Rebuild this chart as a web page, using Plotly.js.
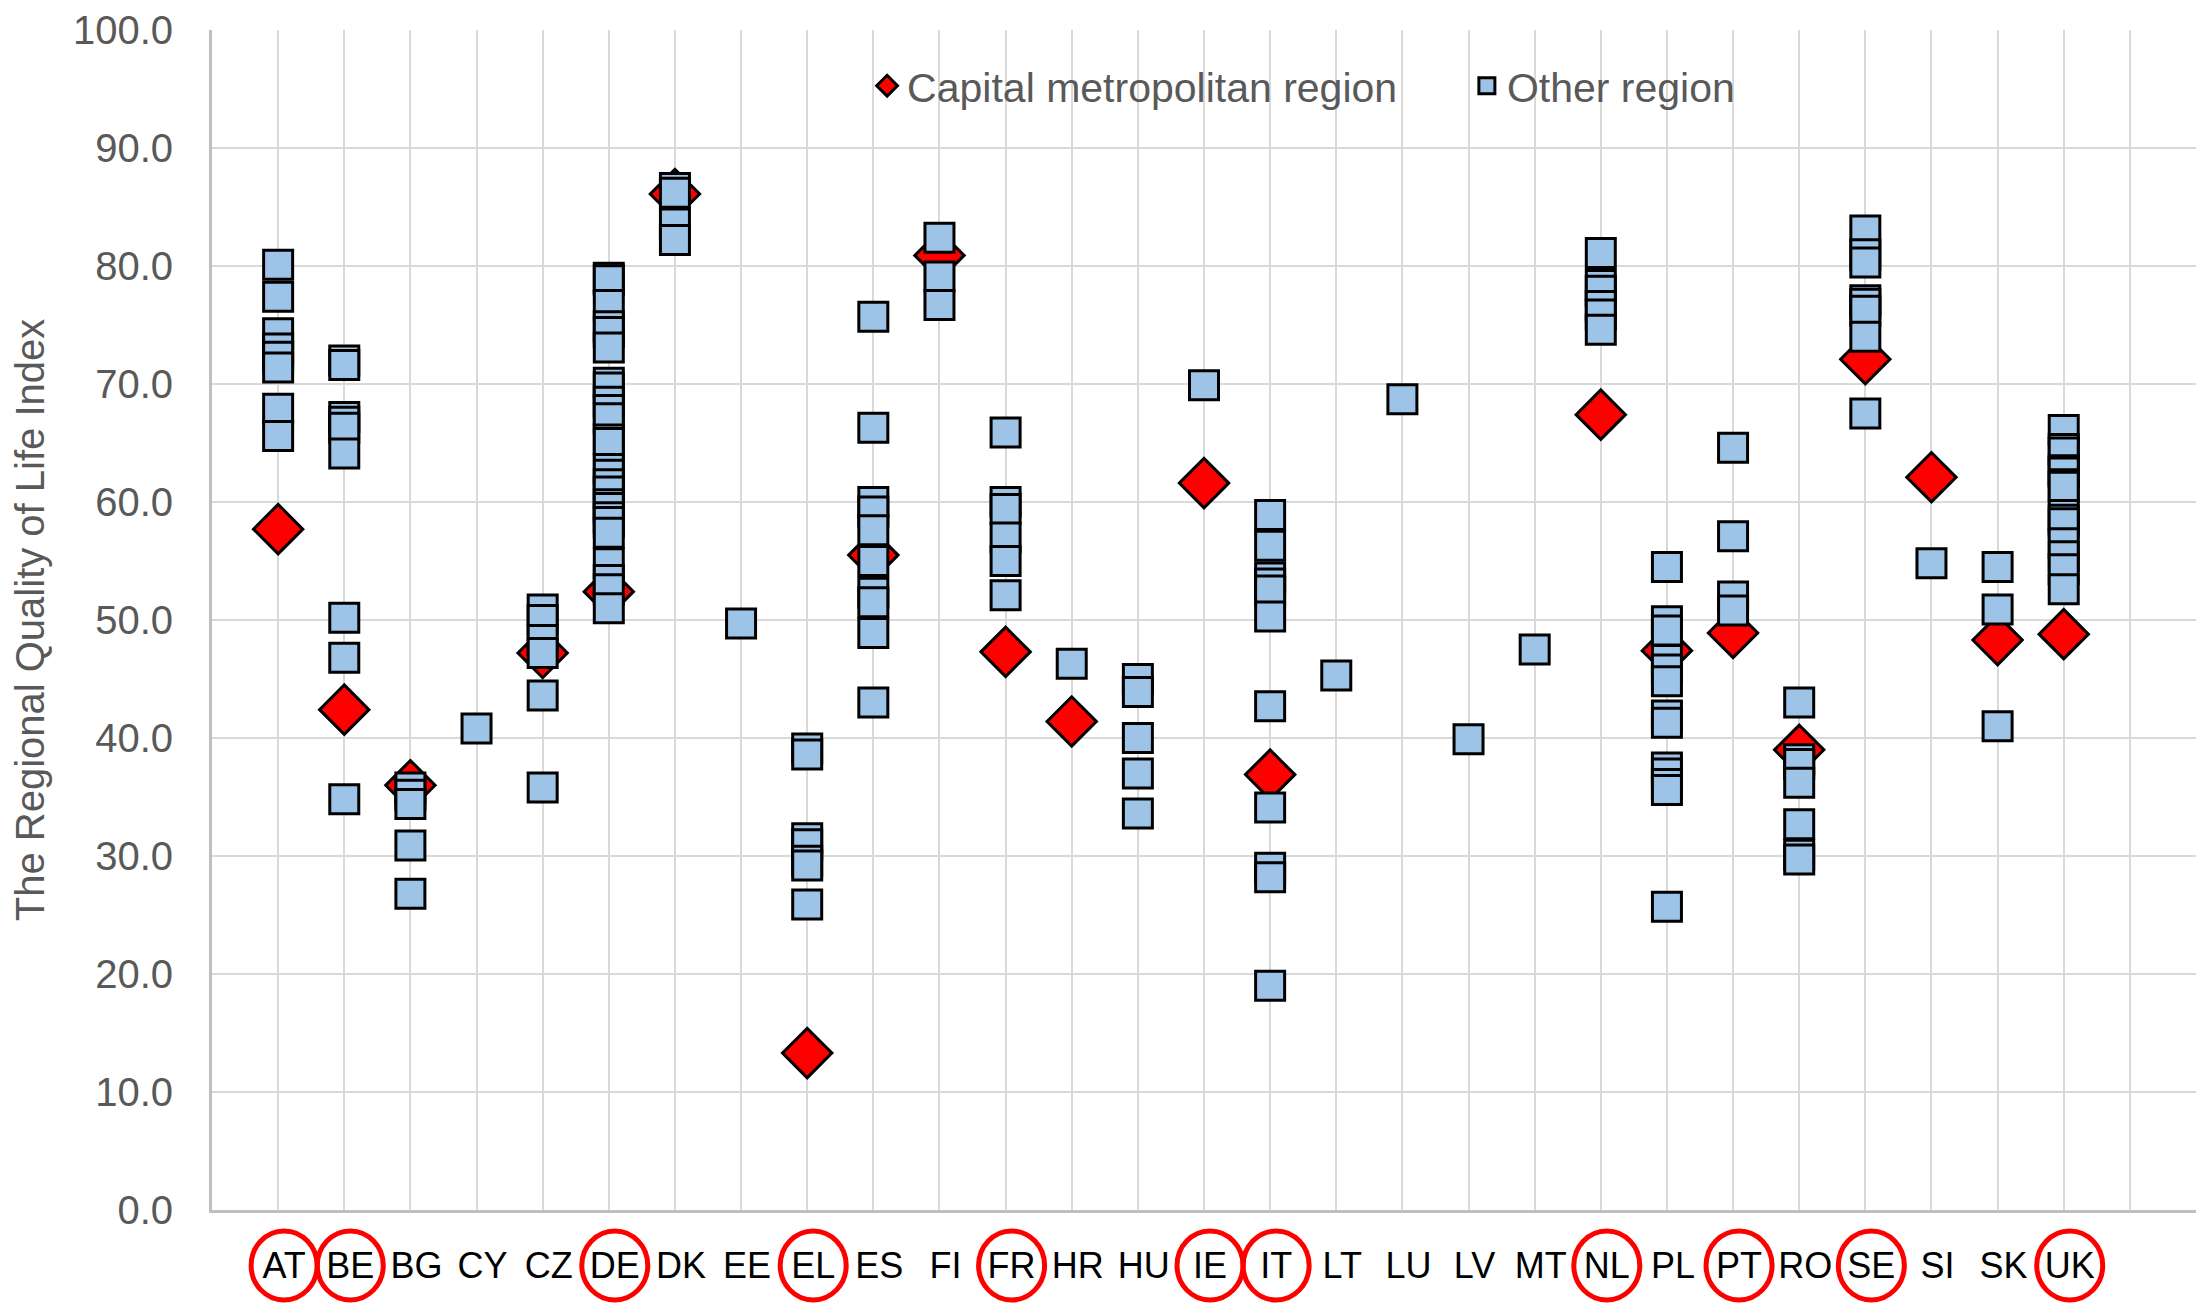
<!DOCTYPE html>
<html>
<head>
<meta charset="utf-8">
<script src="https://cdn.plot.ly/plotly-3.0.1.min.js"></script>
<style>html,body{margin:0;padding:0;background:#ffffff;}</style>
</head>
<body>
<div id="chart" style="width:2210px;height:1303px;"></div>
<script>
// ---- DATA ----
const countries = ["AT","BE","BG","CY","CZ","DE","DK","EE","EL","ES","FI","FR","HR","HU","IE","IT","LT","LU","LV","MT","NL","PL","PT","RO","SE","SI","SK","UK"];

const capitalValues = [57.7, 42.4, 36.0, null, 47.2, 52.4, 86.1, null, 13.3, 55.5, 80.9, 47.3, 41.4, null, 61.6, 36.9, null, null, null, null, 67.4, 47.4, 48.9, 39.0, 72.1, 62.1, 48.3, 48.8];

const otherValues = [
  [80.1, 77.4, 74.3, 73.0, 72.3, 71.4, 67.9, 65.6],                     // AT
  [72.0, 71.6, 67.2, 66.8, 66.3, 64.1, 50.2, 46.8, 34.8],               // BE
  [35.8, 35.2, 34.4, 30.9, 26.8],                                       // BG
  [40.8],                                                               // CY
  [50.9, 50.0, 48.3, 47.2, 43.6, 35.8],                                 // CZ
  [79.0, 78.8, 76.7, 74.9, 74.4, 73.1, 70.1, 69.7, 68.5, 67.8, 67.1, 65.3, 65.0, 62.8, 62.3, 61.5, 60.9, 59.8, 59.5, 58.7, 58.3, 57.4, 54.8, 53.4, 52.6, 51.0], // DE
  [86.6, 86.2, 83.6, 82.2],                                             // DK
  [49.7],                                                               // EE
  [39.1, 38.6, 31.5, 31.0, 29.6, 29.2, 25.9],                           // EL
  [75.7, 66.3, 60.0, 59.2, 57.6, 55.0, 52.3, 51.5, 48.9, 43.0],         // ES
  [82.4, 79.1, 76.7],                                                   // FI
  [65.9, 60.0, 59.4, 57.0, 55.0, 52.1],                                 // FR
  [46.3],                                                               // HR
  [45.0, 43.9, 40.0, 37.0, 33.6],                                       // HU
  [69.9],                                                               // IE
  [58.9, 56.3, 53.6, 53.1, 52.5, 50.3, 42.7, 34.1, 29.0, 28.2, 19.0],   // IT
  [45.3],                                                               // LT
  [68.7],                                                               // LU
  [39.9],                                                               // LV
  [47.5],                                                               // MT
  [81.1, 78.4, 77.9, 76.6, 75.9, 74.6],                                 // NL
  [54.5, 49.9, 49.1, 46.6, 45.8, 44.8, 41.9, 41.3, 37.5, 37.0, 36.1, 35.6, 25.7], // PL
  [64.6, 57.1, 52.0, 50.8],                                             // PT
  [43.0, 38.2, 37.8, 36.2, 32.7, 30.1, 29.7],                           // RO
  [83.0, 81.0, 80.3, 77.1, 76.8, 76.2, 74.0, 67.5],                     // SE
  [54.8],                                                               // SI
  [54.5, 50.9, 41.0],                                                   // SK
  [66.1, 64.5, 64.2, 62.7, 62.5, 61.5, 61.3, 58.9, 58.5, 58.2, 56.5, 55.4, 54.3, 52.6] // UK
];

const circledCountries = ["AT","BE","DE","EL","FR","IE","IT","NL","PT","SE","UK"];

const seriesNames = ["Capital metropolitan region", "Other region"];
const yAxisTitle = "The Regional Quality of Life Index";

// ---- BUILD ----
const FONT = "Liberation Sans, Arial, sans-serif";
const GREY = "#595959";
const catX = countries.map((c, i) => i + 1);

const otherX = [], otherY = [];
otherValues.forEach((arr, i) => arr.forEach(v => { otherX.push(catX[i]); otherY.push(v); }));

const nSlots = countries.length + 2;
const tickVals = [], tickText = [];
for (let k = 0; k <= nSlots; k++) {
  tickVals.push(k);
  tickText.push(k >= 1 && k <= countries.length ? countries[k - 1] : "");
}

const traces = [
  {
    type: "scatter", mode: "markers", name: seriesNames[0],
    x: catX, y: capitalValues, legend: "legend",
    marker: { symbol: "diamond", size: 38, color: "#FF0000", line: { color: "#000000", width: 3 } },
    hoverinfo: "x+y"
  },
  {
    type: "scatter", mode: "markers", name: seriesNames[1],
    x: otherX, y: otherY, legend: "legend2",
    marker: { symbol: "square", size: 29, color: "#9DC3E6", line: { color: "#000000", width: 3 } },
    hoverinfo: "x+y"
  }
];

const shapes = circledCountries.map(c => ({
  type: "circle", xref: "x", yref: "paper",
  xsizemode: "pixel", ysizemode: "pixel",
  xanchor: countries.indexOf(c) + 1, yanchor: -0.047,
  x0: -27, x1: 39, y0: -34.5, y1: 34.5,
  line: { color: "#FF0000", width: 5 },
  layer: "above"
}));

const legendBase = {
  orientation: "h", yanchor: "middle", y: 0.9525, xanchor: "left",
  font: { family: FONT, size: 41, color: GREY },
  bgcolor: "rgba(0,0,0,0)", borderwidth: 0
};

const layout = {
  width: 2210, height: 1303,
  margin: { l: 212, r: 14, t: 30, b: 93 },
  paper_bgcolor: "#ffffff", plot_bgcolor: "#ffffff",
  showlegend: true,
  legend: Object.assign({}, legendBase, { x: 0.3302 }),
  legend2: Object.assign({}, legendBase, { x: 0.6325 }),
  xaxis: {
    range: [0, nSlots], tickmode: "array", tickvals: tickVals, ticktext: tickText,
    tickfont: { family: FONT, size: 36, color: "#000000" },
    showgrid: true, gridcolor: "#D9D9D9", gridwidth: 2,
    zeroline: false, showline: true, linecolor: "#BFBFBF", linewidth: 3,
    ticks: "", ticklabelstandoff: 22, ticklabelshift: 6, fixedrange: true
  },
  yaxis: {
    range: [0, 100], tick0: 0, dtick: 10, tickformat: ".1f",
    tickfont: { family: FONT, size: 40, color: GREY },
    showgrid: true, gridcolor: "#D9D9D9", gridwidth: 2,
    zeroline: false, showline: true, linecolor: "#BFBFBF", linewidth: 3,
    ticks: "", ticklabelstandoff: 28, fixedrange: true,
    title: { text: yAxisTitle, font: { family: FONT, size: 40, color: GREY }, standoff: 16 }
  },
  shapes: shapes
};

Plotly.newPlot("chart", traces, layout, { displayModeBar: false, staticPlot: true });
</script>
</body>
</html>
